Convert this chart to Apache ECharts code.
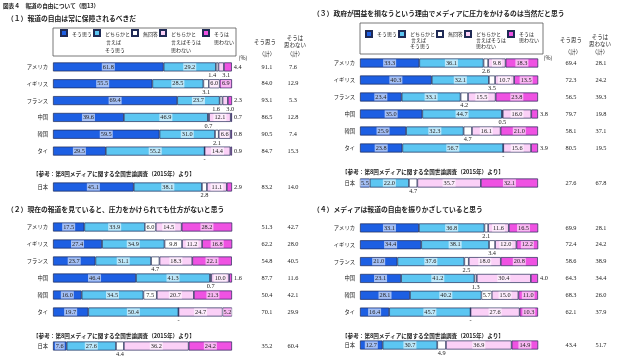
<!DOCTYPE html>
<html><head><meta charset="utf-8">
<script src="https://cdn.jsdelivr.net/npm/echarts@6/dist/echarts.min.js"></script>
<style>html,body{margin:0;padding:0;background:#fff}#c{width:620px;height:359px}</style>
</head><body><div id="c"></div>
<script>
const categories = ['アメリカ','イギリス','フランス','中国','韓国','タイ'];
const refCategories = ['日本'];
const seriesNames = ['そう思う','どちらかと言えばそう思う','無回答','どちらかと言えばそうは思わない','そうは思わない'];
const legendLabels = ['そう思う\n\n','どちらかと\n 言えば\nそう思う','無回答\n\n','どちらかと\n言えばそうは\n思わない','そうは\n思わない\n'];
const colors = ['#1d5fe3','#5cc6f2','#ffffff','#fbd0f7','#ef52e2'];

// values: 6 countries, then 日本 (reference survey)
const q1Agree = [61.8,55.5,69.4,39.6,59.5,29.5,45.1];
const q1SomewhatAgree = [29.2,28.5,23.7,46.9,31.0,55.2,38.1];
const q1NoAnswer = [1.4,3.1,1.6,0.7,2.1,0,2.8];
const q1SomewhatDisagree = [3.1,6.0,3.0,12.1,6.6,14.4,11.1];
const q1Disagree = [4.4,6.9,2.3,0.7,0.8,0.9,2.9];
const q1AgreeTotal = [91.1,84.0,93.1,86.5,90.5,84.7,83.2];
const q1DisagreeTotal = [7.6,12.9,5.3,12.8,7.4,15.3,14.0];

const q2Agree = [17.5,27.4,23.7,46.4,16.0,19.7,7.6];
const q2SomewhatAgree = [33.9,34.9,31.1,41.3,34.5,50.4,27.6];
const q2NoAnswer = [6.0,9.8,4.7,0.7,7.5,0,4.4];
const q2SomewhatDisagree = [14.5,11.2,18.3,10.0,20.7,24.7,36.2];
const q2Disagree = [28.2,16.8,22.1,1.6,21.3,5.2,24.2];
const q2AgreeTotal = [51.3,62.2,54.8,87.7,50.4,70.1,35.2];
const q2DisagreeTotal = [42.7,28.0,40.5,11.6,42.1,29.9,60.4];

const q3Agree = [33.3,40.3,23.4,35.0,25.9,23.8,5.5];
const q3SomewhatAgree = [36.1,32.1,33.1,44.7,32.3,56.7,22.0];
const q3NoAnswer = [2.6,3.5,4.2,0.5,4.7,0,4.7];
const q3SomewhatDisagree = [9.8,10.7,15.5,16.0,16.1,15.6,35.7];
const q3Disagree = [18.3,13.5,23.8,3.8,21.0,3.9,32.1];
const q3AgreeTotal = [69.4,72.3,56.5,79.7,58.1,80.5,27.6];
const q3DisagreeTotal = [28.1,24.2,39.3,19.8,37.1,19.5,67.8];

const q4Agree = [33.1,34.4,21.0,23.1,28.1,16.4,12.7];
const q4SomewhatAgree = [36.8,38.1,37.6,41.2,40.2,45.7,30.7];
const q4NoAnswer = [2.1,3.4,2.5,1.3,5.7,0,4.9];
const q4SomewhatDisagree = [11.6,12.0,18.0,30.4,15.0,27.6,36.9];
const q4Disagree = [16.5,12.2,20.8,4.0,11.0,10.3,14.9];
const q4AgreeTotal = [69.9,72.4,58.6,64.3,68.3,62.1,43.4];
const q4DisagreeTotal = [28.1,24.2,38.9,34.4,26.0,37.9,51.7];

const refNote = '【参考：第8回メディアに関する全国世論調査（2015年）より】';

const panels = [
  {title:'（１）報道の自由は常に保障されるべきだ', tx:7, ty:18,
   vals:[q1Agree,q1SomewhatAgree,q1NoAnswer,q1SomewhatDisagree,q1Disagree], yes:q1AgreeTotal, no:q1DisagreeTotal,
   left:53, width:179, top:58.5, height:101, jpTop:180, noteX:33, noteY:174, rm:22, rw:26},
  {title:'（２）現在の報道を見ていると、圧力をかけられても仕方がないと思う', tx:7, ty:209,
   vals:[q2Agree,q2SomewhatAgree,q2NoAnswer,q2SomewhatDisagree,q2Disagree], yes:q2AgreeTotal, no:q2DisagreeTotal,
   left:53, width:179, top:218.5, height:102, jpTop:339, noteX:33, noteY:336, rm:22, rw:26},
  {title:'（３）政府が国益を損なうという理由でメディアに圧力をかけるのは当然だと思う', tx:313, ty:13,
   vals:[q3Agree,q3SomewhatAgree,q3NoAnswer,q3SomewhatDisagree,q3Disagree], yes:q3AgreeTotal, no:q3DisagreeTotal,
   left:360, width:178, top:54.5, height:102, jpTop:176, noteX:342, noteY:172, rm:18, rw:30},
  {title:'（４）メディアは報道の自由を振りかざしていると思う', tx:313, ty:209,
   vals:[q4Agree,q4SomewhatAgree,q4NoAnswer,q4SomewhatDisagree,q4Disagree], yes:q4AgreeTotal, no:q4DisagreeTotal,
   left:360, width:178, top:219.5, height:101, jpTop:338, noteX:342, noteY:336, rm:18, rw:30}
];

const NUM = "'Liberation Serif','Noto Sans CJK JP'";
const JP = "'Noto Sans CJK JP'";
const grid = [], xAxis = [], yAxis = [], series = [];
const graphic = [];

function itemLabel(rowVals, s) {
  const v = rowVals[s];
  const plain = {backgroundColor:'transparent', padding:0};
  if (v === 0) return Object.assign({position:'bottom', distance:0}, plain);
  if (v < 5 && s === 4) return Object.assign({position:'right', distance:2}, plain);
  if (v < 5) {
    let off = [0,0];
    if (s === 2 && rowVals[3] < 5) off = [-5,0];
    if (s === 3 && rowVals[2] < 5 && rowVals[2] > 0) off = [5,0];
    return Object.assign({position:'bottom', distance:1, offset:off}, plain);
  }
  return {};
}

panels.forEach((p, pi) => {
  const blocks = [
    {cats:categories, start:0, top:p.top, height:p.height},
    {cats:refCategories, start:6, top:p.jpTop, height:14}
  ];
  blocks.forEach((b, bi) => {
    const g = grid.length;
    grid.push({left:p.left, width:p.width, top:b.top, height:b.height});
    xAxis.push({gridIndex:g, type:'value', min:0, max:100, show:false});
    yAxis.push({gridIndex:g, type:'category', data:b.cats, inverse:true,
      axisLine:{show:false}, axisTick:{show:false},
      axisLabel:{fontSize:5.3, color:'#222', margin:5, fontFamily:JP, interval:0}});
    yAxis.push({gridIndex:g, type:'category', data:b.cats, inverse:true, position:'right',
      axisLine:{show:false}, axisTick:{show:false},
      axisLabel:{margin:p.rm, interval:0,
        formatter:(v, i) => '{a|' + p.yes[b.start+i].toFixed(1) + '}{b|' + p.no[b.start+i].toFixed(1) + '}',
        rich:{a:{width:p.rw, align:'center', fontSize:6.3, fontFamily:NUM, color:'#222'},
              b:{width:p.rw, align:'center', fontSize:6.3, fontFamily:NUM, color:'#222'}}}});
    for (let s = 0; s < 5; s++) {
      const data = b.cats.map((c, ci) => {
        const r = b.start + ci;
        const rowVals = p.vals.map(a => a[r]);
        return {value:p.vals[s][r], label:itemLabel(rowVals, s)};
      });
      series.push({
        type:'bar', name:seriesNames[s], stack:'p'+pi+'b'+bi,
        xAxisIndex:g, yAxisIndex:yAxis.length-2, barWidth:9, clip:false,
        itemStyle:{color:colors[s], borderColor:'#1f2a55', borderWidth:0.7},
        label:{show:true, position:'inside', fontSize:6.3, fontFamily:NUM, color:'#222',
          backgroundColor:'rgba(255,255,255,0.6)', padding:[1,1,0,1],
          formatter:(pr) => pr.value === 0 ? '-' : pr.value.toFixed(1)},
        emphasis:{disabled:true},
        data
      });
    }
  });
  graphic.push({type:'text', x:p.tx, y:p.ty, style:{text:p.title, font:'bold 6.8px '+JP, fill:'#222', align:'left', verticalAlign:'middle'}});
  graphic.push({type:'text', x:p.noteX, y:p.noteY, style:{text:refNote, font:'bold 5.6px '+JP, fill:'#222', align:'left', verticalAlign:'middle'}});
});

graphic.push({type:'text', x:3, y:6, style:{text:'図表４　報道の自由について（問13）', font:'bold 5.6px '+JP, fill:'#222', align:'left', verticalAlign:'middle'}});

const headers = [
  {yesX:265, noX:295, yes1:42, kei:54, no1:38, no2:45, pctX:243, pctY:58},
  {yesX:571, noX:600, yes1:40, kei:52, no1:37, no2:44, pctX:548, pctY:58}
];
headers.forEach(h => {
  const f = '5.5px '+JP;
  const t = (x, y, s) => graphic.push({type:'text', x, y, style:{text:s, font:f, fill:'#222', align:'center', verticalAlign:'middle'}});
  t(h.yesX, h.yes1, 'そう思う');
  t(h.yesX+2, h.kei, '（計）');
  t(h.noX, h.no1, 'そうは');
  t(h.noX, h.no2, '思わない');
  t(h.noX, h.kei, '（計）');
  t(h.pctX, h.pctY, '(%)');
});

function makeLegend(left, top, lh, pad) {
  return {
    left, top, orient:'horizontal', data:seriesNames, selectedMode:false,
    itemWidth:6, itemHeight:lh*3, itemGap:1,
    icon:'path://M0,0L6,0L6,6L0,6Z M0,' + (lh*3),
    formatter:(n) => legendLabels[seriesNames.indexOf(n)],
    textStyle:{fontSize:5, lineHeight:lh, fontFamily:JP, color:'#222'},
    borderColor:'#555', borderWidth:0.8, padding:pad
  };
}

const chart = echarts.init(document.getElementById('c'), null, {renderer:'canvas'});
chart.setOption({
  animation:false,
  backgroundColor:'#fff',
  legend:[makeLegend(53, 28, 8, [1,2,1,7]), makeLegend(360, 23, 6, [7,4,4,5])],
  grid, xAxis, yAxis, series, graphic
});
</script></body></html>
